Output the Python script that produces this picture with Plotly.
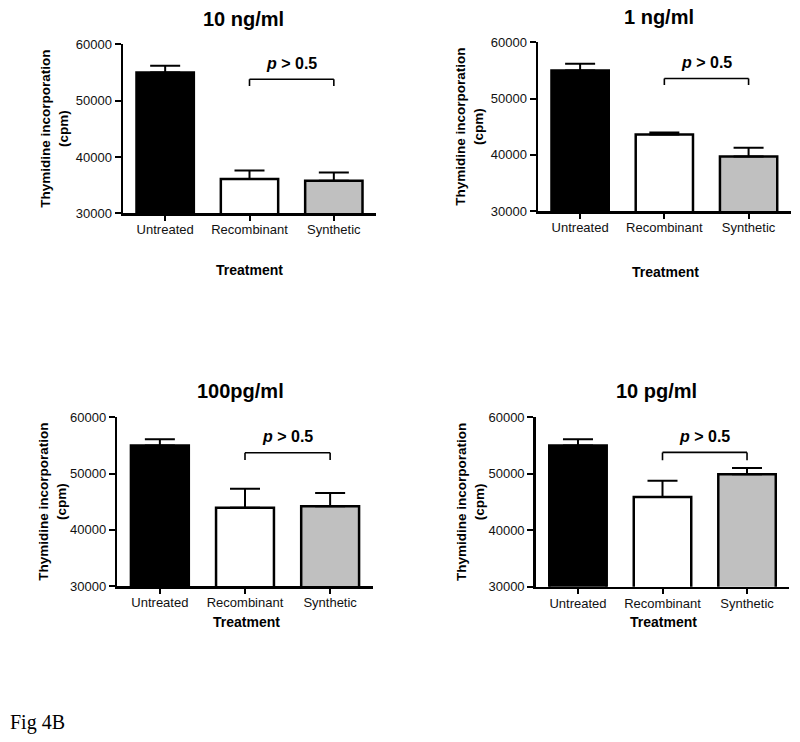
import plotly.graph_objects as go

W, H = 800, 742

# ---- data ----
categories = ["Untreated", "Recombinant", "Synthetic"]
panel_titles = ["10 ng/ml", "1 ng/ml", "100pg/ml", "10 pg/ml"]
untreated_mean = [55000, 55000, 55000, 55000]
untreated_err = [1200, 1200, 1100, 1100]
recombinant_mean = [36100, 43600, 43900, 45900]
recombinant_err = [1500, 350, 3400, 2850]
synthetic_mean = [35800, 39700, 44200, 49900]
synthetic_err = [1450, 1550, 2350, 1100]
y_ticks = [30000, 40000, 50000, 60000]
bracket_y = [53800, 53550, 53700, 53780]
bracket_drop = [52600, 52400, 52400, 52400]
p_text = "<i>p</i> > 0.5"
fill_colors = ["#000000", "#ffffff", "#c0c0c0"]

# ---- layout positions (pixels) ----
panels_px = [
    dict(x0=123, x1=376, ytop=44.3, ybot=213.3, title=(243, 19), ytitle=(55, 128.7), xtitle=(249, 270)),
    dict(x0=538, x1=790.7, ytop=42.3, ybot=211, title=(659, 17), ytitle=(470, 126.7), xtitle=(665.7, 272)),
    dict(x0=117.3, x1=372.7, ytop=417.3, ybot=586, title=(240, 391), ytitle=(53, 501.7), xtitle=(246, 622)),
    dict(x0=535.7, x1=789.3, ytop=417.3, ybot=586.7, title=(656, 391), ytitle=(470, 502), xtitle=(663, 622)),
]

def px(x):
    return x / W

def py(y):
    return 1 - y / H

FONT = "Liberation Sans, Arial, sans-serif"
fig = go.Figure()
annotations = []
shapes = []

for i in range(4):
    p = panels_px[i]
    xa = "x" if i == 0 else f"x{i+1}"
    ya = "y" if i == 0 else f"y{i+1}"
    means = [untreated_mean[i], recombinant_mean[i], synthetic_mean[i]]
    errs = [untreated_err[i], recombinant_err[i], synthetic_err[i]]
    fig.add_trace(go.Bar(
        x=categories, y=means, xaxis=xa, yaxis=ya,
        width=0.68,
        marker=dict(color=fill_colors, line=dict(color="black", width=2.5)),
        error_y=dict(type="data", symmetric=False, array=errs, arrayminus=[0, 0, 0],
                     color="black", thickness=2, width=15),
        showlegend=False, hoverinfo="skip",
    ))
    axkey = "xaxis" if i == 0 else f"xaxis{i+1}"
    aykey = "yaxis" if i == 0 else f"yaxis{i+1}"
    fig.layout[axkey] = dict(
        domain=[px(p["x0"]), px(p["x1"])], anchor=ya,
        range=[-0.5, 2.5], type="category", automargin=False,
        showline=True, linecolor="black", linewidth=2.5,
        ticks="outside", ticklen=5, tickwidth=2, tickcolor="black",
        ticklabelstandoff=-2,
        tickfont=dict(family=FONT, size=13, color="#111"),
        showgrid=False, zeroline=False, fixedrange=True,
    )
    fig.layout[aykey] = dict(
        domain=[py(p["ybot"]), py(p["ytop"])], anchor=xa,
        range=[30000, 60000], tickvals=y_ticks, tickformat="d", automargin=False,
        showline=True, linecolor="black", linewidth=2.5,
        ticks="outside", ticklen=6, tickwidth=2, tickcolor="black",
        tickfont=dict(family=FONT, size=13, color="#111"),
        showgrid=False, zeroline=False, fixedrange=True,
    )
    # significance bracket
    line = dict(color="black", width=1.6)
    shapes.append(dict(type="line", xref=xa, yref=ya, x0=1, x1=2, y0=bracket_y[i], y1=bracket_y[i], line=line))
    shapes.append(dict(type="line", xref=xa, yref=ya, x0=1, x1=1, y0=bracket_drop[i], y1=bracket_y[i], line=line))
    shapes.append(dict(type="line", xref=xa, yref=ya, x0=2, x1=2, y0=bracket_drop[i], y1=bracket_y[i], line=line))
    annotations.append(dict(xref=xa, yref=ya, x=1.5, y=bracket_y[i], yshift=16, text=f"<b>{p_text}</b>",
                            showarrow=False, font=dict(family=FONT, size=16, color="black")))
    # titles
    annotations.append(dict(xref="paper", yref="paper", x=px(p["title"][0]), y=py(p["title"][1]),
                            text=f"<b>{panel_titles[i]}</b>", showarrow=False,
                            xanchor="center", yanchor="middle",
                            font=dict(family=FONT, size=20, color="black")))
    annotations.append(dict(xref="paper", yref="paper", x=px(p["ytitle"][0]), y=py(p["ytitle"][1]),
                            text="<b>Thymidine incorporation<br>(cpm)</b>", textangle=-90, showarrow=False,
                            xanchor="center", yanchor="middle",
                            font=dict(family=FONT, size=13.5, color="black")))
    annotations.append(dict(xref="paper", yref="paper", x=px(p["xtitle"][0]), y=py(p["xtitle"][1]),
                            text="<b>Treatment</b>", showarrow=False,
                            xanchor="center", yanchor="middle",
                            font=dict(family=FONT, size=14, color="black")))

annotations.append(dict(xref="paper", yref="paper", x=px(8), y=py(722), text="Fig 4B", showarrow=False,
                        xanchor="left", yanchor="middle",
                        font=dict(family="Liberation Serif, Times New Roman, serif", size=20, color="black")))

fig.update_layout(
    width=W, height=H, margin=dict(l=0, r=0, t=0, b=0, autoexpand=False),
    paper_bgcolor="white", plot_bgcolor="white",
    annotations=annotations, shapes=shapes, bargap=0.32,
)

fig.write_html("out.html", config={"displayModeBar": False, "staticPlot": True},
               post_script="document.body.style.margin='0';document.body.style.overflow='hidden';")
